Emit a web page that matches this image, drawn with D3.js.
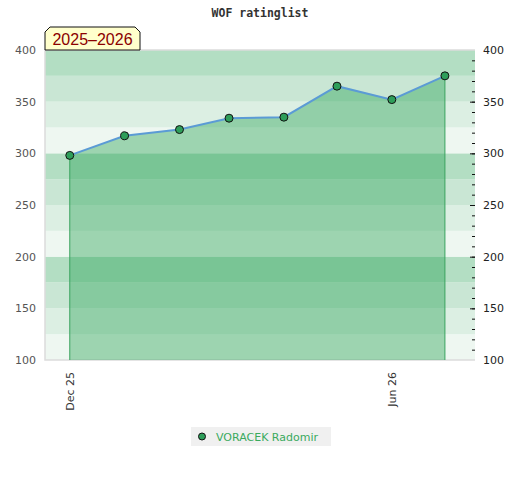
<!DOCTYPE html>
<html>
<head>
<meta charset="utf-8">
<script src="https://cdn.jsdelivr.net/npm/d3@7"></script>
<style>
  body { margin: 0; background: #fff; }
  text { font-family: "DejaVu Sans", sans-serif; }
</style>
</head>
<body>
<svg id="chart" width="520" height="480"></svg>
<script>
const months = ["2025-12-01", "2026-01-01", "2026-02-01", "2026-03-01", "2026-04-01", "2026-05-01", "2026-06-01", "2026-07-01"]
const ratings = [298, 317, 323, 334, 335, 365, 352, 375]
const xTicks = ["2025-12-01", "2026-06-01"]
const yTicks = [100, 150, 200, 250, 300, 350, 400]
const seriesName = "VORACEK Radomir"
const seasonLabel = "2025–2026"

const parse = d3.timeParse("%Y-%m-%d")
const data = months.map((m, i) => ({ date: parse(m), rating: ratings[i] }))

const plotLeft = 45, plotRight = 475, plotTop = 50, plotBottom = 360

const x = d3.scaleTime()
    .domain([parse("2025-11-17"), parse("2026-07-18")])
    .range([plotLeft, plotRight])
const y = d3.scaleLinear().domain([100, 400]).range([plotBottom, plotTop])

const chart = d3.select('#chart')

// title
chart.append('text')
    .attr('x', 260).attr('y', 17)
    .attr('text-anchor', 'middle')
    .style('font-family', '"DejaVu Sans Mono", monospace')
    .style('font-weight', 'bold')
    .style('font-size', '11.5px')
    .attr('fill', '#333')
    .text('WOF ratinglist')

// background bands, 25 points each
const bandColors = ['#eef7f1', '#dcefe3', '#c9e6d4', '#b3dec3']
chart.append('g')
    .selectAll('rect')
    .data(d3.range(100, 400, 25))
    .enter()
    .append('rect')
    .attr('x', plotLeft)
    .attr('y', d => y(d + 25))
    .attr('width', plotRight - plotLeft)
    .attr('height', d => y(d) - y(d + 25))
    .attr('fill', d => bandColors[(d % 100) / 25])

// frame
chart.append('path')
    .attr('d', `M${plotRight},${plotTop}H${plotLeft}V${plotBottom}H${plotRight}`)
    .attr('fill', 'none')
    .attr('stroke', '#dcdcdc')
    .attr('stroke-width', 1.5)

// area under the rating line
const area = d3.area()
    .x(d => x(d.date))
    .y0(y(100))
    .y1(d => y(d.rating))
chart.append('path')
    .datum(data)
    .attr('d', area)
    .attr('fill', 'rgb(35,160,80)')
    .attr('fill-opacity', 0.4)

// vertical edges
const ends = [data[0], data[data.length - 1]]
chart.selectAll('.edge')
    .data(ends)
    .enter()
    .append('line')
    .attr('class', 'edge')
    .attr('x1', d => x(d.date)).attr('x2', d => x(d.date))
    .attr('y1', d => y(d.rating)).attr('y2', y(100))
    .attr('stroke', '#3aa35f')
    .attr('stroke-width', 1)

// line
chart.append('path')
    .datum(data)
    .attr('d', d3.line().x(d => x(d.date)).y(d => y(d.rating)))
    .attr('fill', 'none')
    .attr('stroke', '#5b9bd5')
    .attr('stroke-width', 2)

// points
chart.selectAll('.pt')
    .data(data)
    .enter()
    .append('circle')
    .attr('class', 'pt')
    .attr('cx', d => x(d.date))
    .attr('cy', d => y(d.rating))
    .attr('r', 4)
    .attr('fill', '#2e9e5a')
    .attr('stroke', '#111')
    .attr('stroke-width', 1)

// left axis (labels only)
const yLeft = chart.append('g')
    .attr('transform', `translate(${plotLeft},0)`)
    .call(d3.axisLeft(y).tickValues(yTicks).tickSize(0).tickPadding(9))
yLeft.select('.domain').remove()
yLeft.selectAll('text')
    .style('font-family', '"DejaVu Sans", sans-serif')
    .style('font-size', '11px')
    .attr('fill', '#555')

// right axis: minor ticks every 10, labels every 50
const yRightMinor = chart.append('g')
    .attr('transform', `translate(${plotRight},0)`)
    .call(d3.axisRight(y).tickValues(d3.range(110, 400, 10)).tickSize(-3).tickFormat(''))
yRightMinor.select('.domain').remove()
yRightMinor.selectAll('line').attr('stroke', '#111')

const yRight = chart.append('g')
    .attr('transform', `translate(${plotRight},0)`)
    .call(d3.axisRight(y).tickValues(yTicks).tickSizeInner(-5).tickPadding(8))
yRight.select('.domain').remove()
yRight.selectAll('line').attr('stroke', '#111')
    .filter(d => d === 100 || d === 400).remove()
yRight.selectAll('text')
    .style('font-family', '"DejaVu Sans", sans-serif')
    .style('font-size', '11px')
    .attr('fill', '#222')

// x axis labels, rotated
const xAxis = chart.append('g')
    .attr('transform', `translate(0,${plotBottom})`)
    .call(d3.axisBottom(x).tickValues(xTicks.map(parse)).tickSize(0).tickFormat(d3.timeFormat('%b %y')))
xAxis.select('.domain').remove()
xAxis.selectAll('text')
    .style('font-family', '"DejaVu Sans", sans-serif')
    .style('font-size', '11px')
    .attr('fill', '#333')
    .attr('text-anchor', 'end')
    .attr('dy', '0.35em')
    .attr('transform', 'translate(0,12) rotate(-90)')
    .attr('y', 0).attr('x', 0)

// season tab
const tx0 = 45, tx1 = 140, ty0 = 27, ty1 = 50, c = 5
chart.append('path')
    .attr('d', `M${tx0},${ty1}V${ty0 + c}L${tx0 + c},${ty0}H${tx1 - c}L${tx1},${ty0 + c}V${ty1}Z`)
    .attr('fill', '#ffffcc')
    .attr('stroke', '#111')
    .attr('stroke-width', 1)
chart.append('text')
    .attr('x', (tx0 + tx1) / 2).attr('y', 45)
    .attr('text-anchor', 'middle')
    .style('font-family', '"Liberation Sans", Arial, sans-serif')
    .style('font-size', '16px')
    .attr('fill', '#8b0000')
    .text(seasonLabel)

// legend
const legend = chart.append('g')
legend.append('rect')
    .attr('x', 191).attr('y', 427)
    .attr('width', 140).attr('height', 19)
    .attr('fill', '#f0f0f0')
legend.append('circle')
    .attr('cx', 202).attr('cy', 436.5).attr('r', 3.5)
    .attr('fill', '#2e9e5a').attr('stroke', '#111')
legend.append('text')
    .attr('x', 216).attr('y', 440.5)
    .style('font-size', '11px')
    .attr('fill', '#3aaa5e')
    .text(seriesName)
</script>
</body>
</html>
